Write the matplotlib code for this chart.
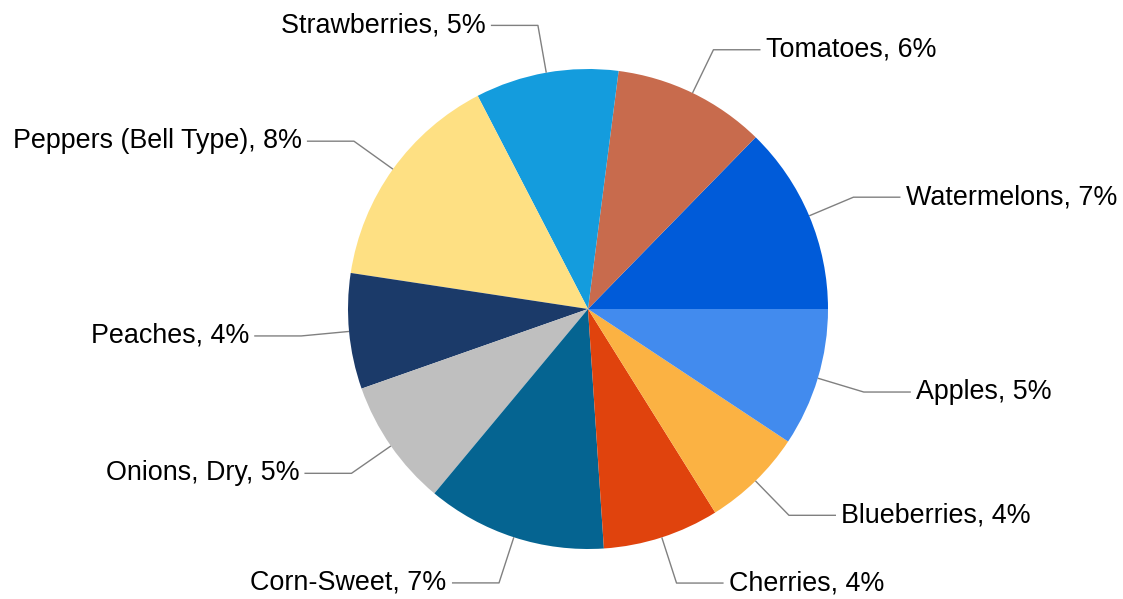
import numpy as np
import matplotlib
matplotlib.use("Agg")
import matplotlib.pyplot as plt

# Данные диаграммы (против часовой стрелки от 3 часов)
crops = ["Watermelons", "Tomatoes", "Strawberries", "Peppers (Bell Type)", "Peaches",
         "Onions, Dry", "Corn-Sweet", "Cherries", "Blueberries", "Apples"]
values = [6.98, 5.65, 5.30, 8.25, 4.28, 4.71, 6.66, 4.31, 3.74, 5.12]
pct_labels = ["7%", "6%", "5%", "8%", "4%", "5%", "7%", "4%", "4%", "5%"]
colors = ["#005bd9", "#c86b4d", "#149cdd", "#fee083", "#1b3a69",
          "#bfbfbf", "#056491", "#e0430d", "#fbb243", "#428bee"]

plt.rcParams['font.family'] = ['Liberation Sans', 'DejaVu Sans']

fig = plt.figure(figsize=(11.23, 5.99), dpi=100)
ax = fig.add_axes([0, 0, 1, 1])

wedges, _ = ax.pie(values, colors=colors, startangle=0, counterclock=True,
                   radius=1.0, wedgeprops=dict(linewidth=0))

# Подписи с выносными линиями
for w, name, pct in zip(wedges, crops, pct_labels):
    ang = np.deg2rad((w.theta1 + w.theta2) / 2)
    x0, y0 = np.cos(ang), np.sin(ang)
    x1, y1 = 1.2 * x0, 1.2 * y0
    side = 1 if x0 >= 0 else -1
    x2 = x1 + side * 0.196
    ax.plot([x0, x1, x2], [y0, y1, y1], color="#808080", lw=1, solid_capstyle="butt")
    ax.text(x2 + side * 0.022, y1, f"{name}, {pct}", fontsize=19.4,
            ha="left" if side > 0 else "right", va="center", color="black")

# Масштаб: 1 единица = 240 px, центр в (588, 309)
ax.set_aspect('auto')
ax.set_xlim(-588 / 240, (1123 - 588) / 240)
ax.set_ylim(-(599 - 309) / 240, 309 / 240)
ax.axis("off")

fig.savefig("out.png", dpi=100, facecolor="white")
